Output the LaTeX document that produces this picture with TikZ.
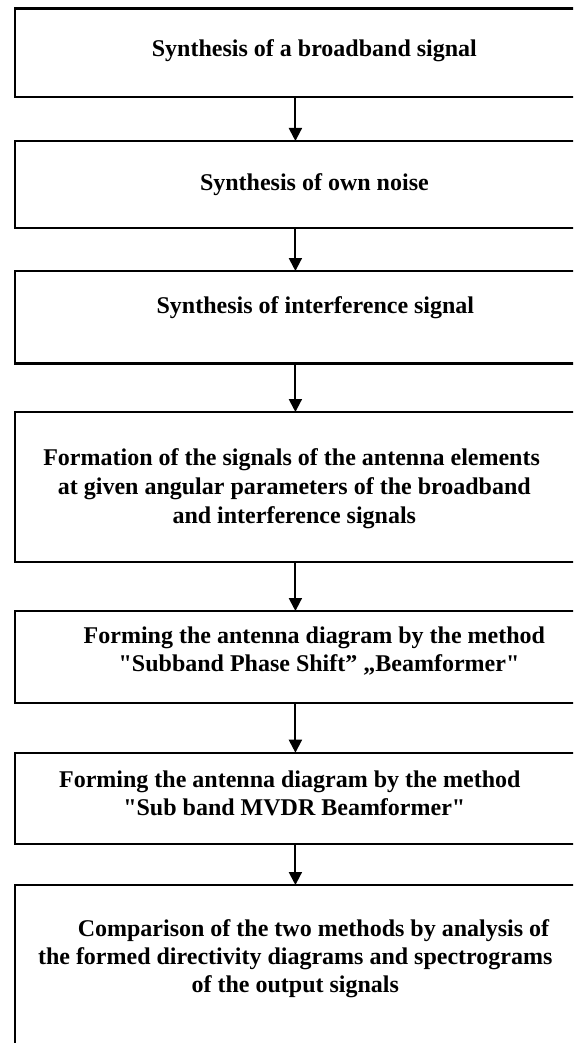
\documentclass[tikz,border=0pt]{standalone}
\usepackage{fontspec}
\setmainfont{Liberation Serif}[Ligatures=TeXOff]
\usetikzlibrary{arrows.meta}
\begin{document}
\begin{tikzpicture}[x=1pt,y=1pt,
  blk/.style={draw,line width=2.2pt,rectangle,anchor=north west,inner sep=0pt,outer sep=0pt,minimum width=640pt},
  lbl/.style={font=\fontsize{24}{28.5}\selectfont\bfseries,anchor=base,inner sep=0pt},
  arr/.style={line width=2pt,-{Triangle[width=13pt,length=13pt]}}]
\useasboundingbox (0,0) rectangle (573,-1043);
\clip (0,0) rectangle (573,-1043);
\fill[white] (0,0) rectangle (573,-1043);
\coordinate (ax) at (295.4,0);
% boxes
\node[blk,minimum height=88.2pt] (b1) at (15.3,-8.5) {};
\node[blk,minimum height=87pt] (b2) at (15.3,-141) {};
\node[blk,minimum height=92.5pt] (b3) at (15.3,-271) {};
\node[blk,minimum height=149.7pt] (b4) at (15.3,-412) {};
\node[blk,minimum height=92.3pt] (b5) at (15.3,-611) {};
\node[blk,minimum height=91.3pt] (b6) at (15.3,-752.7) {};
\node[blk,minimum height=260pt] (b7) at (15.3,-885) {};
% texts
\node[lbl] (t1) at (314.4,-57) {Synthesis of a broadband signal};
\node[lbl] (t2) at (314.4,-190) {Synthesis of own noise};
\node[lbl] (t3) at (315.4,-313) {Synthesis of interference signal};
\node[lbl] (t4a) at (291.6,-465.5) {Formation of the signals of the antenna elements};
\node[lbl] (t4b) at (294.3,-494) {at given angular parameters of the broadband};
\node[lbl] (t4c) at (294.3,-523) {and interference signals};
\node[lbl] (t5a) at (314.4,-643) {Forming the antenna diagram by the method};
\node[lbl] (t5b) at (319,-671) {"Subband Phase Shift” „Beamformer"};
\node[lbl] (t6a) at (289.8,-787) {Forming the antenna diagram by the method};
\node[lbl] (t6b) at (294.3,-815) {"Sub band MVDR Beamformer"};
\node[lbl] (t7a) at (313.5,-936) {Comparison of the two methods by analysis of};
\node[lbl] (t7b) at (295.2,-964) {the formed directivity diagrams and spectrograms};
\node[lbl] (t7c) at (295.3,-992) {of the output signals};
% arrows
\draw[arr] (b1.south -| ax) -- (b2.north -| ax);
\draw[arr] (b2.south -| ax) -- (b3.north -| ax);
\draw[arr] (b3.south -| ax) -- (b4.north -| ax);
\draw[arr] (b4.south -| ax) -- (b5.north -| ax);
\draw[arr] (b5.south -| ax) -- (b6.north -| ax);
\draw[arr] (b6.south -| ax) -- (b7.north -| ax);
\end{tikzpicture}
\end{document}
